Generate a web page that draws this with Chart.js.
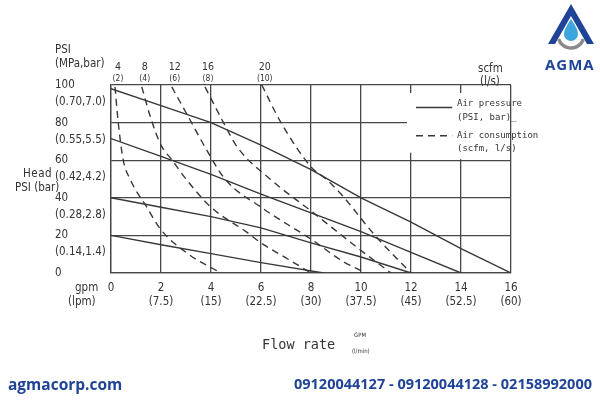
<!DOCTYPE html>
<html><head><meta charset="utf-8">
<script src="https://cdn.jsdelivr.net/npm/chart.js@4.4.1/dist/chart.umd.min.js"></script>
<style>
html,body{margin:0;padding:0;background:#fff;}
#wrap{position:relative;width:600px;height:400px;overflow:hidden;background:#fff;}
canvas{position:absolute;left:0;top:0;}
.t{position:absolute;white-space:nowrap;color:#333;font-family:"DejaVu Sans Condensed","DejaVu Sans",sans-serif;font-size:11.5px;line-height:1;}
.m{font-family:"DejaVu Sans Mono",monospace;}
.f{position:absolute;white-space:nowrap;font-family:"Open Sans",sans-serif;font-weight:700;color:#1f4396;line-height:1;}
</style></head><body>
<div id="wrap">
<canvas id="c" width="600" height="400"></canvas>
<div class="t" style="left:55px;top:44px;">PSI</div>
<div class="t" style="left:55px;top:58px;">(MPa,bar)</div>
<div class="t" style="left:23px;top:168px;letter-spacing:0.5px;">Head</div>
<div class="t" style="left:15px;top:182px;">PSI (bar)</div>
<div class="t" style="left:478px;top:63px;">scfm</div>
<div class="t" style="left:480px;top:76px;">(l/s)</div>
<div class="t" style="left:75px;top:282px;">gpm</div>
<div class="t" style="left:68px;top:296px;">(lpm)</div>
<div class="t m" style="left:262px;top:338px;font-size:13.5px;">Flow rate</div>
<div class="t" style="left:354px;top:332px;font-size:6px;">GPM</div>
<div class="t" style="left:352px;top:348px;font-size:6px;">(l/min)</div>
<div class="t m" style="left:457px;top:99px;font-size:9px;">Air pressure</div>
<div class="t m" style="left:457px;top:113px;font-size:9px;">(PSI, bar)_</div>
<div class="t m" style="left:457px;top:131px;font-size:9px;">Air consumption</div>
<div class="t m" style="left:457px;top:144px;font-size:9px;">(scfm, l/s)</div>
<div class="f" style="left:545px;top:57px;font-size:15px;letter-spacing:1px;">AGMA</div>
<div class="f" style="left:8px;top:377px;font-size:15.5px;">agmacorp.com</div>
<div class="f" style="right:8px;top:377px;font-size:14.5px;">09120044127 - 09120044128 - 02158992000</div>
</div>
<script>
// ---- axis ticks ----
const flowTicks = [0, 2, 4, 6, 8, 10, 12, 14, 16];
const lpmLabels = ["", "(7.5)", "(15)", "(22.5)", "(30)", "(37.5)", "(45)", "(52.5)", "(60)"];
const headTicks = [0, 20, 40, 60, 80, 100];
const headSubLabels = ["", "(0.14,1.4)", "(0.28,2.8)", "(0.42,4.2)", "(0.55,5.5)", "(0.70,7.0)"];

// ---- air pressure curves (solid): flow gpm / head psi ----
const press100X = [0, 2, 4, 6, 8, 10, 12, 14, 16];
const press100Y = [98, 89, 80, 68, 55, 40, 27, 13, 0];
const press80X = [0, 2, 4, 6, 8, 10, 12, 14];
const press80Y = [71.5, 62, 52.5, 42, 32, 22, 11, 0];
const press40X = [0, 2, 4, 6, 8, 10, 12];
const press40Y = [40, 35, 30, 24, 16, 8.5, 0];
const press20X = [0, 2, 4, 6, 8.5];
const press20Y = [20, 15, 10.3, 5.5, 0];

// ---- air consumption curves (dashed) ----
const scfmLabels = ["4", "8", "12", "16", "20"];
const lsLabels = ["(2)", "(4)", "(6)", "(8)", "(10)"];
const air4X = [0.16, 0.29, 0.49, 0.76, 1.43, 2, 3.1, 4.4];
const air4Y = [99, 80, 60, 50, 35, 23, 10, 0];
const air8X = [1.23, 1.6, 2, 2.45, 3, 4, 5.4, 6, 7, 8];
const air8Y = [99, 82, 68, 60, 50, 35, 22, 16, 8, 0];
const air12X = [2.43, 3.16, 3.76, 4.56, 6, 8, 9.3, 10.2];
const air12Y = [99, 81.5, 67, 50, 35, 18, 6, 0];
const air16X = [3.76, 4.5, 5.05, 6.36, 8, 10, 11.2];
const air16Y = [99, 80, 67, 50, 33, 12, 0];
const air20X = [6.03, 6.8, 8.03, 8.6, 9.2, 10.56, 12];
const air20Y = [100, 80, 56, 50, 42, 20, 0];

const pts = (xs, ys) => xs.map((x, i) => ({x: x, y: ys[i]}));
const ink = '#383838';
const solid = (label, xs, ys) => ({label, data: pts(xs, ys), borderColor: ink, borderWidth: 1.4, pointRadius: 0, tension: 0, fill: false});
const dashed = (i, xs, ys) => ({label: 'Air consumption ' + scfmLabels[i] + ' scfm', scfm: scfmLabels[i], ls: lsLabels[i], data: pts(xs, ys), borderColor: ink, borderWidth: 1.4, borderDash: [7, 5], pointRadius: 0, cubicInterpolationMode: 'monotone', fill: false});

const datasets = [
  solid('Air pressure 100 psi', press100X, press100Y),
  solid('Air pressure 80 psi', press80X, press80Y),
  solid('Air pressure 40 psi', press40X, press40Y),
  solid('Air pressure 20 psi', press20X, press20Y),
  dashed(0, air4X, air4Y),
  dashed(1, air8X, air8Y),
  dashed(2, air12X, air12Y),
  dashed(3, air16X, air16Y),
  dashed(4, air20X, air20Y)
];

const tickFont = {family: '"DejaVu Sans Condensed","DejaVu Sans",sans-serif', size: 11.5};

const decor = {
  id: 'decor',
  beforeDatasetsDraw(chart) {
    const {ctx, chartArea: ca, scales: {x, y}} = chart;
    ctx.save();
    ctx.fillStyle = '#fff';
    const l = x.getPixelForValue(11.84), r = ca.right - 1;
    ctx.fillRect(l, ca.top + 8, r - l, y.getPixelForValue(64) - ca.top - 8);
    const x14 = x.getPixelForValue(14);
    ctx.fillRect(x14 - 3, ca.top + 8, 6, y.getPixelForValue(60) - ca.top - 9);
    ctx.restore();
  },
  afterDatasetsDraw(chart) {
    const {ctx, chartArea: ca, scales: {x, y}} = chart;
    ctx.save();
    // legend samples
    const lx0 = x.getPixelForValue(12.2), lx1 = x.getPixelForValue(13.65);
    ctx.strokeStyle = ink; ctx.lineWidth = 1.4;
    ctx.beginPath(); ctx.moveTo(lx0, y.getPixelForValue(88)); ctx.lineTo(lx1, y.getPixelForValue(88)); ctx.stroke();
    ctx.setLineDash([7, 5]);
    ctx.beginPath(); ctx.moveTo(lx0, y.getPixelForValue(73)); ctx.lineTo(lx1, y.getPixelForValue(73)); ctx.stroke();
    ctx.setLineDash([]);
    // scfm labels above each consumption curve
    ctx.fillStyle = '#333';
    ctx.textAlign = 'center'; ctx.textBaseline = 'middle';
    chart.data.datasets.forEach(ds => {
      if (!ds.scfm) return;
      const px = x.getPixelForValue(ds.data[0].x) + 3;
      ctx.font = '10.5px "DejaVu Sans Condensed","DejaVu Sans",sans-serif';
      ctx.fillText(ds.scfm, px, ca.top - 18);
      ctx.font = '8.5px "DejaVu Sans Condensed","DejaVu Sans",sans-serif';
      ctx.fillText(ds.ls, px, ca.top - 6);
    });
    ctx.restore();
  },
  afterDraw(chart) {
    const ctx = chart.ctx;
    ctx.save();
    ctx.fillStyle = '#1f4396';
    ctx.beginPath();
    ctx.moveTo(571, 4); ctx.lineTo(594, 44); ctx.lineTo(587, 44); ctx.lineTo(571, 16);
    ctx.lineTo(555, 44); ctx.lineTo(548, 44); ctx.closePath(); ctx.fill();
    ctx.strokeStyle = '#8a8a8a'; ctx.lineWidth = 3.5;
    ctx.beginPath(); ctx.arc(571, 35, 13, 0.1 * Math.PI, 0.9 * Math.PI); ctx.stroke();
    ctx.fillStyle = '#3ea6de';
    ctx.beginPath();
    ctx.moveTo(571, 19);
    ctx.quadraticCurveTo(564, 29, 564, 34);
    ctx.arc(571, 34, 7, Math.PI, 0, true);
    ctx.quadraticCurveTo(578, 29, 571, 19);
    ctx.fill();
    ctx.restore();
  }
};

new Chart(document.getElementById('c'), {
  type: 'scatter',
  data: {datasets},
  options: {
    responsive: false,
    animation: false,
    showLine: true,
    layout: {padding: {left: 55, right: 89, top: 85, bottom: 0}},
    plugins: {legend: {display: false}, tooltip: {enabled: false}},
    scales: {
      x: {
        type: 'linear', min: 0, max: 16,
        afterBuildTicks: s => { s.ticks = flowTicks.map(v => ({value: v})); },
        afterFit: s => { s.height = 127; },
        grid: {color: '#474747', lineWidth: 1.3, drawTicks: false},
        border: {color: '#474747', width: 1.3},
        ticks: {
          color: '#333', font: Object.assign({lineHeight: '14px'}, tickFont), padding: 8, maxRotation: 0, autoSkip: false,
          callback: v => [String(v), lpmLabels[flowTicks.indexOf(v)] || '']
        }
      },
      y: {
        type: 'linear', min: 0, max: 100,
        afterBuildTicks: s => { s.ticks = headTicks.map(v => ({value: v})); },
        afterFit: s => { s.width = 56; },
        grid: {color: '#474747', lineWidth: 1.3, drawTicks: false},
        border: {color: '#474747', width: 1.3},
        ticks: {
          color: '#333', font: Object.assign({lineHeight: '17px'}, tickFont), crossAlign: 'far', labelOffset: 8.5, autoSkip: false,
          callback: v => [String(v), headSubLabels[headTicks.indexOf(v)] || '']
        }
      }
    }
  },
  plugins: [decor]
});
</script>
</body></html>
